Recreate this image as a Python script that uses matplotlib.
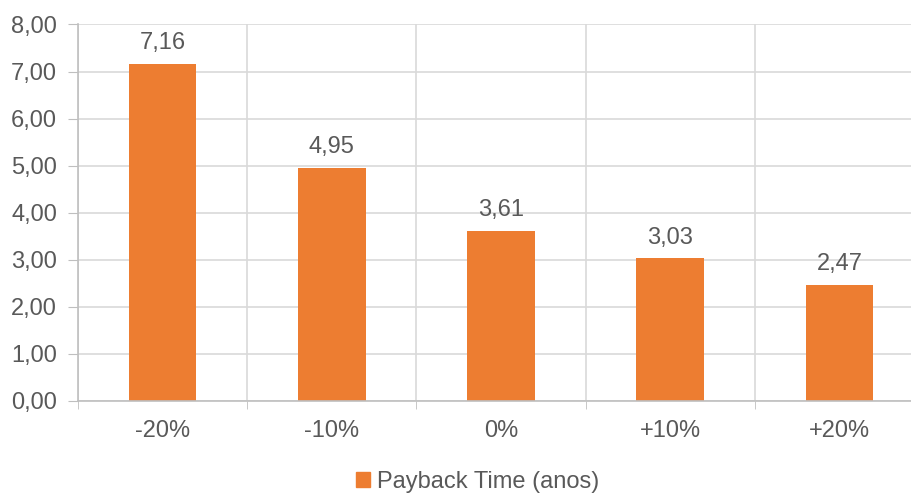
import matplotlib.pyplot as plt
from matplotlib.patches import Patch
import numpy as np

categories = ['-20%', '-10%', '0%', '+10%', '+20%']
payback = [7.16, 4.95, 3.61, 3.03, 2.47]
yticks = [0, 1, 2, 3, 4, 5, 6, 7, 8]

plt.rcParams['font.family'] = ['Liberation Sans', 'DejaVu Sans']
txt = '#595959'
bar_col = '#ED7D31'

fig = plt.figure(figsize=(9.12, 4.93), dpi=100)
ax = fig.add_axes([78 / 912, 92 / 493, 846 / 912, 376.5 / 493])

x = np.arange(len(categories))
ax.bar(x, payback, width=0.4, color=bar_col, zorder=3)
for xi, v in zip(x, payback):
    ax.annotate(f'{v:.2f}'.replace('.', ','), (xi, v), xytext=(0, 7),
                textcoords='offset points', ha='center', va='bottom',
                fontsize=17, color=txt)

ax.set_xlim(-0.5, len(categories) - 0.5)
ax.set_ylim(0, 8)
ax.set_yticks(yticks)
ax.set_yticklabels([f'{v:.2f}'.replace('.', ',') for v in yticks])
ax.set_xticks(x)
ax.set_xticklabels(categories)
ax.set_xticks(np.arange(len(categories) + 1) - 0.5, minor=True)

ax.tick_params(axis='y', length=7, color='#BFBFBF', labelsize=17, labelcolor=txt, pad=8)
ax.tick_params(axis='x', which='major', length=0, labelsize=17, labelcolor=txt, pad=14)
ax.tick_params(axis='x', which='minor', length=6, color='#BFBFBF')

ax.grid(True, axis='y', color='#D9D9D9', linewidth=1.2, zorder=0)
ax.grid(True, axis='x', which='minor', color='#D9D9D9', linewidth=1.2, zorder=0)
for s in ['top', 'right']:
    ax.spines[s].set_visible(False)
for s in ['left', 'bottom']:
    ax.spines[s].set_color('#BFBFBF')
    ax.spines[s].set_linewidth(1.2)
    ax.spines[s].set_zorder(4)

fig.legend(handles=[Patch(color=bar_col, label='Payback Time (anos)')],
           loc='center', bbox_to_anchor=(478 / 912, 1 - 482 / 493),
           frameon=False, fontsize=17, labelcolor=txt,
           handlelength=0.6, handleheight=0.6, handletextpad=0.3)

fig.savefig('out.png', dpi=100)
